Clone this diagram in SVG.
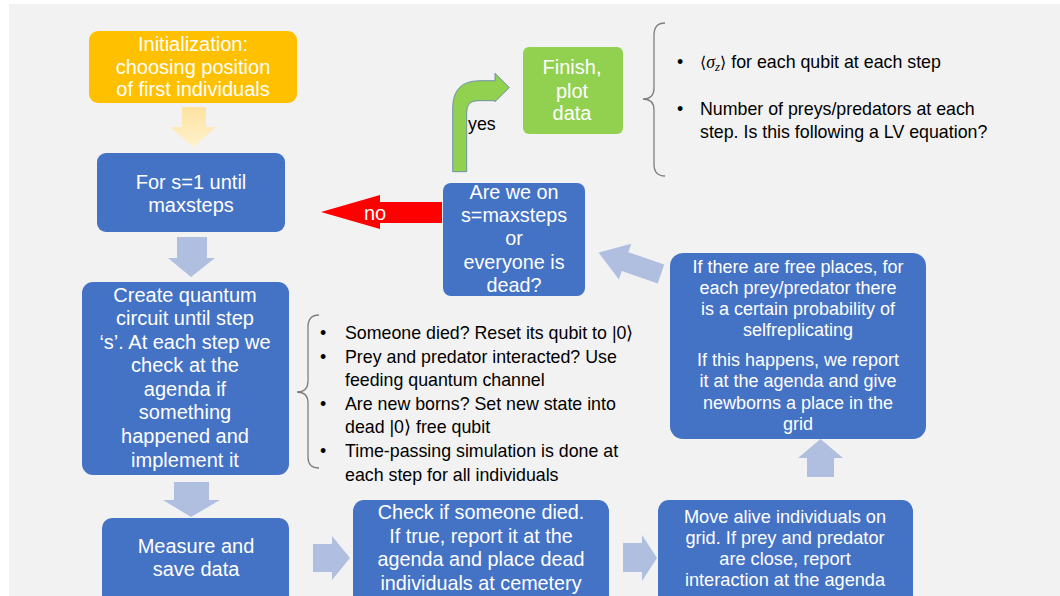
<svg xmlns="http://www.w3.org/2000/svg" width="1060" height="596" viewBox="0 0 1060 596">
<style>
.box{fill:#4472c4}
.wt{fill:#ffffff;font-family:"Liberation Sans",Arial,sans-serif;text-anchor:middle;dominant-baseline:central}
.bt{fill:#000000;font-family:"Liberation Sans",Arial,sans-serif;font-size:17.8px;dominant-baseline:central}
.ba{fill:#b0bfe0}
.brace{fill:none;stroke:#7f7f7f;stroke-width:1.3}
</style>
<defs>
<linearGradient id="yg" x1="0" y1="0" x2="0" y2="1">
<stop offset="0" stop-color="#fde3a0"/>
<stop offset="1" stop-color="#fff1cc"/>
</linearGradient>
<marker id="ah" markerWidth="8" markerHeight="8" refX="7" refY="4" orient="auto" markerUnits="userSpaceOnUse">
<path d="M0,1 L7,4 L0,7 Z" fill="#000"/>
</marker>
</defs>
<rect x="0" y="0" width="1060" height="596" fill="#ffffff"/>
<rect x="9" y="4" width="1051" height="592" fill="#f2f2f2"/>

<g id="connectors">
<path id="yellow-down" d="M182,107 H206 V127 H216 L193,147 L170,127 H182 Z" fill="url(#yg)"/>
<path d="M177,237 H207 V258 H215 L191,277 L168,258 H177 Z" class="ba"/>
<path d="M174,482 H209 V500 H220 L191,517 L163,500 H174 Z" class="ba"/>
<path d="M313,544 H332 V536 L350,558 L332,580 V572 H313 Z" class="ba"/>
<path d="M623,543 H642 V535 L657,558 L642,581 V572 H623 Z" class="ba"/>
<path d="M807,477 V458 H798 L820.5,439 L843,458 H834 V477 Z" class="ba"/>
<path transform="translate(661,274) rotate(199)" d="M0,-10 L38,-10 L38,-19 L66,0 L38,19 L38,10 L0,10 Z" class="ba"/>
<path id="no-arrow" d="M442,202 H380 V195 L321,212 L380,229 V223 H442 Z" fill="#ff0000"/>
<text class="wt" x="375" y="213" font-size="20">no</text>
<path id="yes-arrow" d="M452.7,171.7 V108 Q452.7,80.7 480,80.7 H495 V73.3 L509.3,87.5 L495,101.7 V100.7 H478 Q466.7,100.7 466.7,112 V171.7 Z" fill="#92d050" stroke="#5b7fa6" stroke-width="0.8"/>
<text class="bt" x="468" y="124" font-size="16.5">yes</text>
<line x1="248" y1="393" x2="289" y2="393" stroke="#000" stroke-width="1.2" marker-end="url(#ah)"/>
</g>

<g id="init">
<rect x="89" y="31" width="208" height="72" rx="9" fill="#ffc000"/>
<text class="wt" x="193" y="44" font-size="20">Initialization:</text>
<text class="wt" x="193" y="67" font-size="20">choosing position</text>
<text class="wt" x="193" y="89" font-size="20">of first individuals</text>
</g>

<g id="for-loop">
<rect x="97" y="153" width="188" height="79" rx="9" class="box"/>
<text class="wt" x="191" y="182" font-size="20">For s=1 until</text>
<text class="wt" x="191" y="205" font-size="20">maxsteps</text>
</g>

<g id="create-circuit">
<rect x="82" y="282" width="207" height="193" rx="11" class="box"/>
<text class="wt" x="185" y="295" font-size="20">Create quantum</text>
<text class="wt" x="185" y="318" font-size="20">circuit until step</text>
<text class="wt" x="185" y="342" font-size="20">‘s’. At each step we</text>
<text class="wt" x="185" y="365" font-size="20">check at the</text>
<text class="wt" x="185" y="389" font-size="20">agenda if</text>
<text class="wt" x="185" y="412" font-size="20">something</text>
<text class="wt" x="185" y="436" font-size="20">happened and</text>
<text class="wt" x="185" y="460" font-size="20">implement it</text>
</g>

<g id="circuit-notes">
<path class="brace" d="M319,315 Q308,315 308,327 V381 Q308,392 297,392 Q308,392 308,403 V457 Q308,468 319,468"/>
<text class="bt" x="320" y="333">•</text>
<text class="bt" x="345" y="333">Someone died? Reset its qubit to |0⟩</text>
<text class="bt" x="320" y="357">•</text>
<text class="bt" x="345" y="357">Prey and predator interacted? Use</text>
<text class="bt" x="345" y="380">feeding quantum channel</text>
<text class="bt" x="320" y="404">•</text>
<text class="bt" x="345" y="404">Are new borns? Set new state into</text>
<text class="bt" x="345" y="427">dead |0⟩ free qubit</text>
<text class="bt" x="320" y="451">•</text>
<text class="bt" x="345" y="451">Time-passing simulation is done at</text>
<text class="bt" x="345" y="475">each step for all individuals</text>
</g>

<g id="measure">
<rect x="102" y="518" width="187" height="100" rx="10" class="box"/>
<text class="wt" x="196" y="546" font-size="20">Measure and</text>
<text class="wt" x="196" y="569" font-size="20">save data</text>
</g>

<g id="check-died">
<rect x="353" y="500" width="256" height="120" rx="11" class="box"/>
<text class="wt" x="481" y="512" font-size="19.8">Check if someone died.</text>
<text class="wt" x="481" y="536" font-size="19.8">If true, report it at the</text>
<text class="wt" x="481" y="559" font-size="19.8">agenda and place dead</text>
<text class="wt" x="481" y="583" font-size="19.8">individuals at cemetery</text>
</g>

<g id="move">
<rect x="658" y="500" width="255" height="120" rx="11" class="box"/>
<text class="wt" x="785" y="517" font-size="18.2">Move alive individuals on</text>
<text class="wt" x="785" y="538" font-size="18.2">grid. If prey and predator</text>
<text class="wt" x="785" y="559" font-size="18.2">are close, report</text>
<text class="wt" x="785" y="580" font-size="18.2">interaction at the agenda</text>
</g>

<g id="replicate">
<rect x="670" y="253" width="256" height="186" rx="13" class="box"/>
<text class="wt" x="798" y="267" font-size="18">If there are free places, for</text>
<text class="wt" x="798" y="288" font-size="18">each prey/predator there</text>
<text class="wt" x="798" y="309" font-size="18">is a certain probability of</text>
<text class="wt" x="798" y="330" font-size="18">selfreplicating</text>
<text class="wt" x="798" y="360" font-size="18">If this happens, we report</text>
<text class="wt" x="798" y="381" font-size="18">it at the agenda and give</text>
<text class="wt" x="798" y="403" font-size="18">newborns a place in the</text>
<text class="wt" x="798" y="424" font-size="18">grid</text>
</g>

<g id="decision">
<rect x="443" y="183" width="142" height="113" rx="8" class="box"/>
<text class="wt" x="514" y="192" font-size="19.8">Are we on</text>
<text class="wt" x="514" y="215" font-size="19.8">s=maxsteps</text>
<text class="wt" x="514" y="238" font-size="19.8">or</text>
<text class="wt" x="514" y="262" font-size="19.8">everyone is</text>
<text class="wt" x="514" y="285" font-size="19.8">dead?</text>
</g>

<g id="finish">
<rect x="523" y="47" width="100" height="87" rx="6" fill="#92d050"/>
<text class="wt" x="572" y="67" font-size="20">Finish,</text>
<text class="wt" x="572" y="91" font-size="20">plot</text>
<text class="wt" x="572" y="113" font-size="20">data</text>
</g>

<g id="finish-notes">
<path class="brace" d="M665,23 Q654,23 654,35 V88 Q654,99 643,99 Q654,99 654,110 V164 Q654,176 665,176"/>
<text class="bt" x="677" y="62" font-size="18.2">•</text>
<text class="bt" x="700" y="62" font-size="18.2"><tspan font-family="DejaVu Sans, sans-serif" font-size="16">⟨</tspan><tspan font-family="Liberation Serif, serif" font-style="italic">σ</tspan><tspan font-family="Liberation Serif, serif" font-style="italic" font-size="13" dy="4">z</tspan><tspan font-family="DejaVu Sans, sans-serif" font-size="16" dy="-4">⟩</tspan> for each qubit at each step</text>
<text class="bt" x="677" y="109" font-size="18.2">•</text>
<text class="bt" x="700" y="109" font-size="18.2">Number of preys/predators at each</text>
<text class="bt" x="700" y="132" font-size="18.2">step. Is this following a LV equation?</text>
</g>
</svg>
